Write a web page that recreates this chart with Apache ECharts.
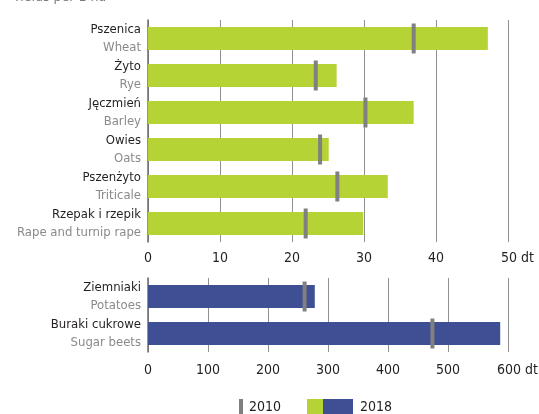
<!DOCTYPE html>
<html><head><meta charset="utf-8">
<script src="https://cdn.jsdelivr.net/npm/echarts@6/dist/echarts.min.js"></script>
<style>html,body{margin:0;padding:0;background:#fff}#c{width:539px;height:414px}</style>
</head><body><div id="c"></div>
<script>
const FONT = '"DejaVu Sans Condensed","Liberation Sans Narrow",sans-serif';
const titleText = 'Yields per 1 ha';
const grainPL = ['Pszenica','Żyto','Jęczmień','Owies','Pszenżyto','Rzepak i rzepik'];
const grainEN = ['Wheat','Rye','Barley','Oats','Triticale','Rape and turnip rape'];
const grain2018 = [47.2, 26.2, 36.9, 25.1, 33.3, 29.9];
const grain2010 = [36.9, 23.3, 30.2, 23.9, 26.3, 21.9];
const rootPL = ['Ziemniaki','Buraki cukrowe'];
const rootEN = ['Potatoes','Sugar beets'];
const root2018 = [278, 587];
const root2010 = [261, 474];
const grainTicks = [0,10,20,30,40,50];
const rootTicks = [0,100,200,300,400,500,600];
const unit = 'dt';
const legendNames = ['2010','2018'];

const GREEN = '#b5d334', BLUE = '#3f4f94', MARK = '#808080';

const chart = echarts.init(document.getElementById('c'), null, {renderer:'canvas'});

function catAxis(idx, pl, en) {
  return {
    type:'category', gridIndex: idx, inverse:true,
    data: pl.map((p,i)=>p+'|'+en[i]),
    axisLine:{show:true, lineStyle:{color:'#6d6d6d', width:1.5}},
    axisTick:{show:false},
    axisLabel:{
      margin:7, align:'right',
      formatter: v => { const [a,b]=v.split('|'); return '{pl|'+a+'}\n{en|'+b+'}'; },
      rich:{
        pl:{fontFamily:FONT, fontSize:13, color:'#231f20', lineHeight:18},
        en:{fontFamily:FONT, fontSize:13, color:'#8a8a8a', lineHeight:18}
      }
    }
  };
}
function valAxis(idx, ticks, margin) {
  const last = ticks[ticks.length-1];
  return {
    type:'value', gridIndex: idx, min:ticks[0], max:last, interval:ticks[1]-ticks[0],
    axisLine:{show:false}, axisTick:{show:false},
    splitLine:{show:true, lineStyle:{color:'#909090', width:1}},
    axisLabel:{
      margin: margin, fontFamily:FONT, fontSize:14, color:'#231f20',
      formatter: v => v===last ? '{pad|}'+v+' '+unit : ''+v,
      rich:{pad:{width:19}}
    }
  };
}

chart.setOption({
  animation:false,
  textStyle:{fontFamily:FONT},
  grid:[
    {left:148, right:31, top:20, height:222, outerBoundsMode:'none', containLabel:false},
    {left:148, right:31, top:278, height:74, outerBoundsMode:'none', containLabel:false}
  ],
  xAxis:[valAxis(0, grainTicks, 9), valAxis(1, rootTicks, 11)],
  yAxis:[catAxis(0, grainPL, grainEN), catAxis(1, rootPL, rootEN)],
  series:[
    {type:'bar', xAxisIndex:0, yAxisIndex:0, data:grain2018, barWidth:23, itemStyle:{color:GREEN}, silent:true},
    {type:'scatter', xAxisIndex:0, yAxisIndex:0, data:grain2010, symbol:'rect', symbolSize:[4,30], itemStyle:{color:MARK, opacity:1}, z:5},
    {type:'bar', xAxisIndex:1, yAxisIndex:1, data:root2018, barWidth:23, itemStyle:{color:BLUE}, silent:true},
    {type:'scatter', xAxisIndex:1, yAxisIndex:1, data:root2010, symbol:'rect', symbolSize:[4,30], itemStyle:{color:MARK, opacity:1}, z:5}
  ],
  graphic:[
    {type:'text', x:13, y:4, style:{text:titleText, fontFamily:FONT, fontSize:14, fill:'#7a7a7a', verticalAlign:'bottom'}},
    {type:'rect', shape:{x:239, y:399, width:4, height:16}, style:{fill:MARK}},
    {type:'text', x:249, y:407, style:{text:legendNames[0], fontFamily:FONT, fontSize:14, fill:'#231f20', verticalAlign:'middle'}},
    {type:'rect', shape:{x:307, y:399, width:16, height:16}, style:{fill:GREEN}},
    {type:'rect', shape:{x:323, y:399, width:30, height:16}, style:{fill:BLUE}},
    {type:'text', x:360, y:407, style:{text:legendNames[1], fontFamily:FONT, fontSize:14, fill:'#231f20', verticalAlign:'middle'}}
  ]
});
</script></body></html>
